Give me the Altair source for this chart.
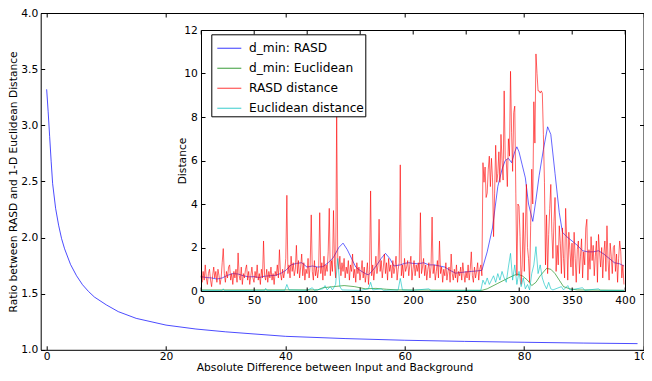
import altair as alt
import pandas as pd

# ---------------- data ----------------
main_x = [0, 0.25, 0.5, 0.75, 1, 1.5, 2, 2.5, 3, 4, 5, 6, 7, 8, 10, 12, 15, 20, 25, 30, 40, 50, 60, 70, 80, 90, 99]
main_y = [3.32, 3.12, 2.90, 2.68, 2.48, 2.26, 2.11, 1.99, 1.90, 1.76, 1.66, 1.58, 1.52, 1.47, 1.40, 1.34, 1.28,
          1.22, 1.185, 1.16, 1.12, 1.10, 1.085, 1.075, 1.067, 1.06, 1.055]

series_names = ["d_min: RASD", "d_min: Euclidean", "RASD distance", "Euclidean distance"]
series_colors = ["#0000ff", "#008000", "#ff0000", "#00bfbf"]

blue_x = [0, 5, 10, 15, 20, 25, 30, 35, 40, 45, 50, 55, 60, 65, 70, 75, 80, 85, 90, 95, 100, 105, 110, 115, 120,
          125, 130, 134, 138, 142, 146, 150, 155, 158, 162, 166, 170, 174, 178, 182, 188, 192, 196, 200, 205, 210,
          215, 220, 225, 230, 235, 240, 245, 250, 255, 260, 265, 270, 275, 280, 284, 287, 290, 293, 296, 298, 300,
          303, 306, 309, 313, 316, 319, 323, 327, 330, 334, 338, 341, 345, 350, 355, 360, 365, 370, 375, 380, 385,
          390, 395, 399]
blue_y = [0.66, 0.62, 0.60, 0.55, 0.60, 0.72, 0.80, 0.78, 0.70, 0.65, 0.66, 0.62, 0.68, 0.70, 0.72, 0.80, 0.95,
          1.20, 1.27, 1.30, 1.10, 1.15, 1.10, 1.12, 1.30, 1.55, 2.00, 2.20, 1.90, 1.50, 1.10, 0.95, 0.80, 0.74,
          0.95, 1.20, 1.50, 1.73, 1.50, 1.15, 1.20, 1.27, 1.30, 1.27, 1.25, 1.30, 1.20, 1.20, 1.15, 1.10, 0.95,
          0.82, 0.85, 0.88, 0.90, 0.92, 0.95, 1.80, 2.90, 4.80, 5.60, 6.00, 6.10, 5.90, 6.40, 6.63, 6.40, 5.80,
          5.20, 4.00, 3.20, 4.20, 5.30, 6.50, 7.55, 7.20, 5.40, 3.60, 2.70, 2.50, 2.30, 2.10, 1.85, 1.80, 1.80,
          1.85, 1.70, 1.50, 1.30, 1.25, 1.15]

green_x = [0, 110, 115, 125, 135, 145, 155, 165, 175, 185, 265, 270, 280, 290, 298, 303, 308, 312, 316, 320, 326,
           330, 334, 338, 342, 348, 355, 399]
green_y = [0.05, 0.05, 0.15, 0.20, 0.25, 0.20, 0.10, 0.12, 0.08, 0.05, 0.03, 0.10, 0.35, 0.60, 0.78, 0.70, 0.50,
           0.25, 0.40, 0.70, 1.04, 1.00, 0.80, 0.50, 0.20, 0.10, 0.05, 0.03]

red_y = [
    0.7, 0.4, 0.9, 0.5, 1.2, 0.6, 0.3, 0.8, 1.0, 0.5,
    0.2, 0.7, 1.1, 0.6, 0.9, 0.4, 1.0, 0.7, 0.3, 0.6,
    1.3, 1.95, 0.8, 0.4, 0.9, 0.6, 1.1, 1.2, 0.5, 0.8,
    0.3, 0.9, 0.6, 1.0, 0.4, 1.75, 0.7, 0.5, 1.1, 0.3,
    0.8, 0.6, 1.0, 1.2, 0.5, 0.9, 0.3, 0.7, 1.1, 0.6,
    0.4, 0.9, 0.6, 1.2, 0.5, 0.8, 0.3, 1.0, 0.6, 2.3,
    0.7, 0.5, 1.0, 0.4, 0.9, 0.6, 1.1, 0.5, 0.8, 0.3,
    0.9, 0.7, 1.2, 0.6, 1.9, 0.8, 0.5, 1.0, 0.6, 0.9,
    1.5, 4.4, 0.8, 1.2, 0.6, 1.6, 0.9, 1.3, 0.7, 1.0,
    2.1, 0.8, 1.4, 0.6, 1.1, 1.7, 0.7, 1.3, 0.5, 1.0,
    0.8, 1.5, 0.6, 1.2, 3.5, 0.9, 0.5, 1.4, 0.7, 1.1,
    0.6, 1.0, 3.6, 0.8, 1.3, 0.5, 1.6, 0.7, 1.2, 0.9,
    1.8, 3.8, 0.7, 1.4, 0.9, 3.7, 1.2, 0.6, 8.2, 1.5,
    1.0, 1.6, 0.7, 1.3, 0.9, 1.5, 0.6, 1.1, 0.8, 1.4,
    0.5, 1.2, 0.9, 1.7, 0.6, 1.0, 0.4, 1.3, 0.8, 1.1,
    0.5, 0.9, 1.4, 0.6, 1.1, 0.4, 0.8, 1.3, 0.3, 1.0,
    4.6, 0.7, 1.2, 0.5, 1.0, 1.6, 0.8, 1.2, 3.3, 0.9,
    1.4, 0.6, 1.1, 1.7, 0.8, 1.3, 0.5, 1.5, 0.9, 1.2,
    0.6, 1.4, 0.8, 1.1, 1.6, 0.5, 1.0, 1.3, 5.8, 0.7,
    1.2, 0.6, 1.5, 0.9, 1.1, 1.4, 0.7, 1.2, 1.6, 0.5,
    1.0, 1.4, 0.7, 1.2, 0.9, 1.3, 0.6, 3.6, 0.8, 1.1,
    1.5, 0.7, 1.2, 0.5, 1.0, 1.3, 0.6, 1.1, 3.4, 0.8,
    1.2, 0.5, 0.9, 1.4, 0.6, 2.3, 0.8, 1.1, 0.4, 1.0,
    0.7, 1.3, 0.5, 0.9, 1.1, 0.4, 1.7, 0.8, 0.5, 1.0,
    0.6, 1.2, 0.4, 0.9, 0.7, 1.1, 0.5, 1.3, 0.8, 0.4,
    0.9, 0.6, 1.2, 0.5, 1.0, 1.8, 0.7, 0.4, 1.1, 0.6,
    0.9, 1.3, 0.5, 1.0, 1.2, 0.7, 5.9, 5.0, 5.7, 4.3,
    4.5, 5.6, 6.2, 4.8, 6.1, 5.2, 2.5, 4.5, 6.7, 5.0,
    5.4, 6.4, 5.0, 7.2, 6.0, 5.1, 9.2, 6.1, 6.0, 4.8,
    7.0, 6.2, 10.1, 7.3, 5.5, 8.2, 8.5, 4.5, 0.7, 4.0,
    3.9, 2.5, 0.3, 1.2, 3.6, 0.9, 2.8, 4.9, 2.0, 1.5,
    0.4, 3.0, 5.6, 4.0, 8.7, 6.8, 10.9, 10.0, 9.2, 9.2,
    9.1, 9.2, 9.1, 7.2, 5.0, 1.2, 3.5, 0.8, 2.6, 3.8,
    4.9, 2.7, 1.5, 3.2, 4.3, 0.9, 2.1, 1.2, 3.0, 2.2,
    0.8, 2.9, 1.5, 0.6, 3.8, 2.4, 0.5, 2.7, 1.9, 1.1,
    2.2, 0.7, 2.7, 1.5, 0.4, 1.9, 2.3, 0.8, 1.6, 2.4,
    0.6, 1.8, 1.2, 2.9, 3.3, 0.5, 1.9, 1.0, 2.5, 1.4,
    2.1, 0.7, 1.6, 2.3, 0.4, 2.6, 1.8, 1.1, 2.0, 0.6,
    1.7, 2.3, 0.9, 3.0, 1.4, 0.5, 2.2, 1.6, 0.8, 2.0,
    2.1, 0.9, 1.7, 0.4, 1.5, 2.3, 1.8, 0.6, 1.2, 0.3,
]
red_x = list(range(len(red_y)))

cyan_x = [0, 20, 21, 22, 60, 61, 62, 79, 81, 83, 100, 105, 107, 115, 117, 119, 122, 124, 127, 129, 131, 133, 150,
          158, 160, 162, 170, 172, 186, 188, 190, 200, 215, 217, 264, 266, 268, 270, 272, 274, 276, 278, 280, 282,
          284, 286, 288, 290, 292, 294, 296, 298, 300, 302, 304, 306, 308, 310, 312, 314, 316, 318, 320, 322, 324,
          326, 328, 330, 332, 340, 342, 346, 348, 360, 362, 375, 377, 399]
cyan_y = [0.03, 0.02, 0.10, 0.02, 0.03, 0.12, 0.03, 0.03, 0.30, 0.05, 0.03, 0.15, 0.03, 0.10, 0.25, 0.05, 0.20,
          0.05, 0.30, 1.50, 0.20, 0.05, 0.03, 0.10, 0.40, 0.05, 0.10, 0.03, 0.05, 0.58, 0.05, 0.03, 0.10, 0.02,
          0.03, 0.50, 0.30, 0.60, 0.30, 0.50, 0.70, 0.40, 0.80, 0.50, 0.90, 0.60, 0.40, 1.10, 1.73, 0.50, 1.20,
          0.30, 0.90, 0.20, 0.60, 0.10, 0.30, 0.05, 0.80, 1.20, 2.04, 0.80, 1.20, 0.60, 0.30, 0.10, 0.40, 0.10,
          0.05, 0.20, 0.05, 0.25, 0.05, 0.15, 0.03, 0.10, 0.03, 0.03]

main_xticks = [0, 20, 40, 60, 80, 100]
main_yticks = [1.0, 1.5, 2.0, 2.5, 3.0, 3.5, 4.0]
main_xdomain = [-1, 100]
main_ydomain = [1, 4]
inset_xticks = [0, 50, 100, 150, 200, 250, 300, 350, 400]
inset_yticks = [0, 2, 4, 6, 8, 10, 12]
inset_xdomain = [0, 400]
inset_ydomain = [0, 12]

x_title = "Absolute Difference between Input and Background"
y_title = "Ratio between RASD and 1-D Euclidean Distance"
inset_y_title = "Distance"

# ---------------- layout ----------------
FONT = "DejaVu Sans"
FS = 10.7
PAD_L, PAD_T = 32.7, 5.0
W, H = 602.8, 336.8
CANVAS_W, CANVAS_H = 636, 365
# inset box, in pixels from the plot's top-left corner
IX0, IX1, IY0, IY1 = 160.3, 584.3, 17.0, 278.0


def ax(orient, offset, values, labels=False, ticks=True, domain=False, **kw):
    return alt.Axis(orient=orient, offset=offset, values=values, labels=labels, ticks=ticks, domain=domain,
                    grid=False, tickSize=4, tickColor="black", tickWidth=1, domainColor="black", domainWidth=1,
                    labelFont=FONT, labelFontSize=FS, labelColor="black", labelFlush=False, labelOverlap=False,
                    zindex=1, **kw)


main_df = pd.DataFrame({"x": main_x, "y": main_y})
xs_main = alt.Scale(domain=main_xdomain, nice=False, zero=False)
ys_main = alt.Scale(domain=main_ydomain, nice=False, zero=False)

m1 = alt.Chart(main_df).mark_line(color="#0000ff", strokeWidth=1, opacity=0.7).encode(
    x=alt.X("x:Q", scale=xs_main, axis=ax("bottom", 0, main_xticks, labels=True, ticks=False, domain=True,
                                         labelBaseline="alphabetic", labelPadding=9.5,
                                         title=x_title, titleFont=FONT, titleFontSize=FS, titleFontWeight="normal",
                                         titleColor="black", titleX=293.8, titleY=20.5, titleAlign="center",
                                         titleBaseline="alphabetic")),
    y=alt.Y("y:Q", scale=ys_main, axis=ax("left", 0, main_yticks, labels=True, ticks=False, domain=True,
                                         labelPadding=3, format=".1f",
                                         title=y_title, titleFont=FONT, titleFontSize=FS, titleFontWeight="normal",
                                         titleColor="black", titleX=-27.2, titleY=H / 2, titleAngle=270,
                                         titleAlign="center", titleBaseline="middle")),
)
m2 = alt.Chart(main_df).mark_line(opacity=0).encode(
    x=alt.X("x:Q", scale=xs_main, axis=ax("top", -H, main_xticks, title=None)),
    y=alt.Y("y:Q", scale=ys_main, axis=ax("right", -W, main_yticks, title=None)),
)
m3 = alt.Chart(main_df).mark_line(opacity=0).encode(
    x=alt.X("x:Q", scale=xs_main, axis=ax("bottom", -H, main_xticks, domain=True, title=None)),
    y=alt.Y("y:Q", scale=ys_main, axis=ax("left", -W, main_yticks, domain=True, title=None)),
)
main = alt.layer(m1, m2, m3).resolve_axis(x="independent", y="independent")

# ---------------- inset ----------------
xs_in = alt.Scale(domain=inset_xdomain, range=[IX0, IX1], nice=False, zero=False)
ys_in = alt.Scale(domain=inset_ydomain, range=[IY1, IY0], nice=False, zero=False)

frame_df = pd.DataFrame({"x0": [inset_xdomain[0]], "x1": [inset_xdomain[1]],
                         "y0": [inset_ydomain[0]], "y1": [inset_ydomain[1]]})
i_rect = alt.Chart(frame_df).mark_rect(fill="white").encode(
    x=alt.X("x0:Q", scale=xs_in, axis=ax("top", -IY1, inset_xticks, title=None)),
    x2="x1:Q",
    y=alt.Y("y0:Q", scale=ys_in, axis=ax("right", -(W - IX0), inset_yticks, title=None)),
    y2="y1:Q",
)
i_ghost = alt.Chart(frame_df).mark_rect(opacity=0).encode(
    x=alt.X("x0:Q", scale=xs_in, axis=ax("bottom", -(H - IY0), inset_xticks, domain=True, title=None)),
    x2="x1:Q",
    y=alt.Y("y0:Q", scale=ys_in, axis=ax("left", -IX1, inset_yticks, domain=True, title=None)),
    y2="y1:Q",
)

series_data = [
    (series_names[0], blue_x, blue_y),
    (series_names[1], green_x, green_y),
    (series_names[2], red_x, red_y),
    (series_names[3], cyan_x, cyan_y),
]
color_scale = alt.Scale(domain=series_names, range=series_colors)
legend = alt.Legend(orient="none", legendX=170.6, legendY=21.3, direction="vertical", title=None,
                    fillColor="white", strokeColor="black", padding=1, cornerRadius=0,
                    symbolType="stroke", symbolSize=576, symbolStrokeWidth=1.3, symbolOpacity=0.6,
                    symbolOffset=4,
                    labelFont=FONT, labelFontSize=12.2, labelColor="black", labelOffset=6.7, rowPadding=-3.3,
                    zindex=2)

line_layers = []
for i, (name, xs, ys) in enumerate(series_data):
    df = pd.DataFrame({"x": xs, "y": ys, "series": name})
    if i == 0:
        xenc = alt.X("x:Q", scale=xs_in, axis=ax("bottom", -(H - IY1), inset_xticks, labels=True, ticks=False,
                                                domain=True, labelBaseline="alphabetic", labelPadding=12,
                                                title=None))
        yenc = alt.Y("y:Q", scale=ys_in, axis=ax("left", -IX0, inset_yticks, labels=True, ticks=False,
                                                domain=True, labelPadding=3.7,
                                                title=inset_y_title, titleFont=FONT, titleFontSize=FS,
                                                titleFontWeight="normal", titleColor="black", titleX=-19,
                                                titleY=(IY0 + IY1) / 2, titleAngle=270, titleAlign="center",
                                                titleBaseline="middle"))
    else:
        xenc = alt.X("x:Q", scale=xs_in, axis=None)
        yenc = alt.Y("y:Q", scale=ys_in, axis=None)
    line_layers.append(
        alt.Chart(df).mark_line(strokeWidth=1, opacity=0.6).encode(
            x=xenc, y=yenc,
            color=alt.Color("series:N", scale=color_scale, legend=legend),
        )
    )

inset = alt.layer(i_rect, i_ghost, *line_layers).resolve_axis(x="independent", y="independent")

chart = alt.layer(main, inset).resolve_scale(
    x="independent", y="independent"
).resolve_axis(
    x="independent", y="independent"
).properties(
    width=W, height=H,
    autosize=alt.AutoSizeParams(type="none"),
    padding={"left": PAD_L, "top": PAD_T, "right": CANVAS_W - PAD_L - W, "bottom": CANVAS_H - PAD_T - H},
    background="white",
).configure_view(stroke=None)

chart.save("out.html", embed_options={"renderer": "svg", "actions": False})
